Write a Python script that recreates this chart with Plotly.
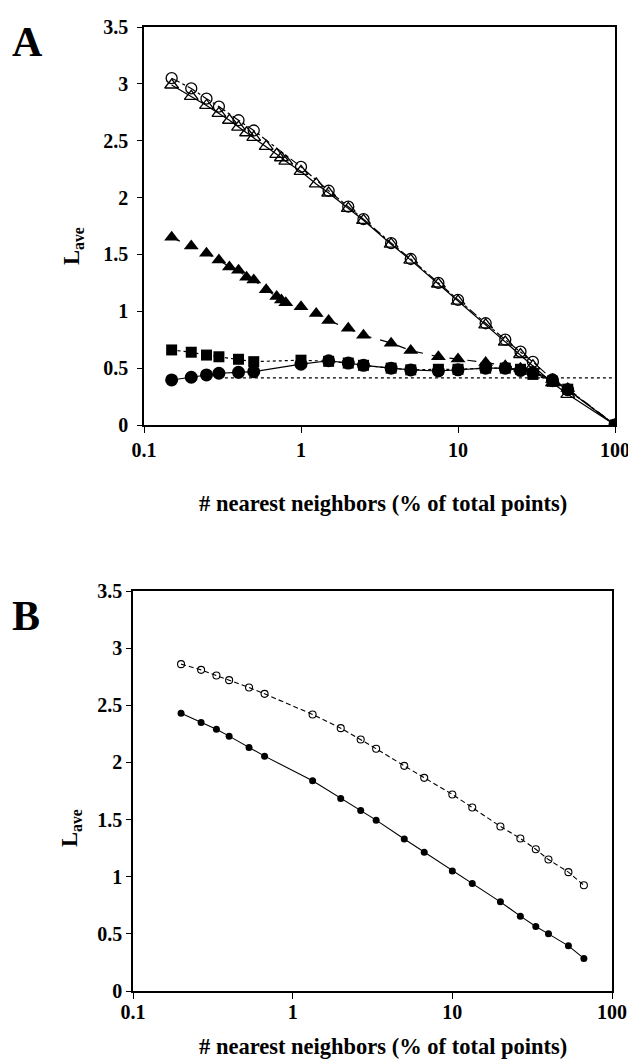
import plotly.graph_objects as go

# ---------------- Panel A data ----------------
xA_full = [0.15, 0.2, 0.25, 0.3, 0.35, 0.4, 0.45, 0.5, 0.6, 0.7, 0.75, 0.8, 1, 1.25, 1.5,
           2, 2.5, 3.75, 5, 7.5, 10, 15, 20, 25, 30, 40, 50, 100]
xA_sub = [0.15, 0.2, 0.25, 0.3, 0.4, 0.5, 1, 1.5, 2, 2.5, 3.75, 5, 7.5, 10, 15, 20, 25,
          30, 40, 50, 100]

a_open_circle = [3.05, 2.96, 2.87, 2.80, 2.68, 2.59, 2.27, 2.06, 1.92, 1.81, 1.60, 1.46,
                 1.25, 1.10, 0.895, 0.75, 0.645, 0.555, 0.40, 0.31, 0.0]
a_open_triangle = [2.99, 2.89, 2.81, 2.74, 2.68, 2.62, 2.57, 2.53, 2.45, 2.38, 2.35, 2.32,
                   2.23, 2.12, 2.04, 1.905, 1.80, 1.59, 1.45, 1.24, 1.09, 0.88, 0.73,
                   0.62, 0.52, 0.37, 0.27, 0.0]
a_filled_triangle = [1.65, 1.575, 1.51, 1.45, 1.39, 1.36, 1.30, 1.275, 1.19, 1.13, 1.10,
                     1.075, 1.04, 0.98, 0.92, 0.85, 0.79, 0.72, 0.655, 0.60, 0.58, 0.55,
                     0.52, 0.50, 0.47, 0.40, 0.32, 0.0]
a_filled_square = [0.66, 0.64, 0.615, 0.60, 0.578, 0.557, 0.57, 0.56, 0.545, 0.525, 0.50,
                   0.485, 0.49, 0.49, 0.50, 0.50, 0.49, 0.445, 0.385, 0.315, 0.0]
a_filled_circle = [0.396, 0.42, 0.44, 0.455, 0.463, 0.469, 0.535, 0.565, 0.545, 0.525,
                   0.50, 0.484, 0.475, 0.485, 0.50, 0.50, 0.48, 0.46, 0.39, 0.31, 0.0]
a_ref_x = [0.3, 100]
a_ref_y = [0.415, 0.415]

# ---------------- Panel B data ----------------
xB = [0.2, 0.267, 0.333, 0.4, 0.533, 0.667, 1.333, 2, 2.667, 3.333, 5, 6.667, 10, 13.33,
      20, 26.67, 33.33, 40, 53.33, 66.67]
b_open = [2.86, 2.81, 2.76, 2.72, 2.655, 2.60, 2.42, 2.30, 2.20, 2.12, 1.97, 1.865, 1.72,
          1.605, 1.44, 1.335, 1.24, 1.15, 1.04, 0.925]
b_filled = [2.43, 2.35, 2.29, 2.23, 2.13, 2.055, 1.84, 1.685, 1.58, 1.495, 1.33, 1.215,
            1.05, 0.94, 0.78, 0.655, 0.565, 0.50, 0.395, 0.285]

x_tickvals = [0.1, 1, 10, 100]
x_ticktext = ["0.1", "1", "10", "100"]
y_tickvals = [0, 0.5, 1, 1.5, 2, 2.5, 3, 3.5]
y_ticktext = ["0", "0.5", "1", "1.5", "2", "2.5", "3", "3.5"]

# The page body has an 8px default margin, so the figure is drawn 8px smaller
# and all target pixel positions are shifted by that offset.
OFF = 8
W, H = 636 - OFF, 1064 - OFF
FONT = "'Liberation Serif', 'Times New Roman', Times, serif"
BLK = "black"

fig = go.Figure()

def px_x(p):
    return (p - OFF) / W

def px_y(p):
    return 1 - (p - OFF) / H

# Panel A traces
fig.add_trace(go.Scatter(x=a_ref_x, y=a_ref_y, mode="lines", xaxis="x", yaxis="y",
                         line=dict(color=BLK, width=1.2, dash="dot"), showlegend=False))
fig.add_trace(go.Scatter(x=xA_sub, y=a_filled_circle, mode="lines+markers", xaxis="x", yaxis="y",
                         line=dict(color=BLK, width=1.2),
                         marker=dict(symbol="circle", size=13, color=BLK), showlegend=False))
fig.add_trace(go.Scatter(x=xA_sub, y=a_filled_square, mode="lines+markers", xaxis="x", yaxis="y",
                         line=dict(color=BLK, width=1.2, dash="dot"),
                         marker=dict(symbol="square", size=11, color=BLK), showlegend=False))
fig.add_trace(go.Scatter(x=xA_full, y=a_filled_triangle, mode="lines+markers", xaxis="x", yaxis="y",
                         line=dict(color=BLK, width=1.2, dash="dash"),
                         marker=dict(symbol="triangle-up", size=13, color=BLK), showlegend=False))
fig.add_trace(go.Scatter(x=xA_full, y=a_open_triangle, mode="lines+markers", xaxis="x", yaxis="y",
                         line=dict(color=BLK, width=1.2),
                         marker=dict(symbol="triangle-up-open", size=12, color=BLK,
                                     line=dict(width=1.3, color=BLK)), showlegend=False))
fig.add_trace(go.Scatter(x=xA_sub, y=a_open_circle, mode="lines+markers", xaxis="x", yaxis="y",
                         line=dict(color=BLK, width=1.2, dash="dashdot"),
                         marker=dict(symbol="circle-open", size=11, color=BLK,
                                     line=dict(width=1.3, color=BLK)), showlegend=False))

# Panel B traces
fig.add_trace(go.Scatter(x=xB, y=b_open, mode="lines+markers", xaxis="x2", yaxis="y2",
                         line=dict(color=BLK, width=1.1, dash="5px,3px"),
                         marker=dict(symbol="circle-open", size=7, color=BLK,
                                     line=dict(width=1.1, color=BLK)), showlegend=False))
fig.add_trace(go.Scatter(x=xB, y=b_filled, mode="lines+markers", xaxis="x2", yaxis="y2",
                         line=dict(color=BLK, width=1.1),
                         marker=dict(symbol="circle", size=7, color=BLK), showlegend=False))

tickfont = dict(family=FONT, size=20, color=BLK, weight="bold")

def xaxis(domain, anchor, standoff):
    return dict(type="log", domain=domain, anchor=anchor, range=[-1, 2],
                tickvals=x_tickvals, ticktext=x_ticktext, tickfont=tickfont,
                ticks="outside", ticklen=6, tickwidth=1.2, tickcolor=BLK,
                showline=True, linecolor=BLK, linewidth=1.5, mirror=True,
                showgrid=False, zeroline=False, ticklabelstandoff=standoff,
                automargin=False)

def yaxis(domain, anchor, standoff):
    return dict(domain=domain, anchor=anchor, range=[0, 3.5],
                tickvals=y_tickvals, ticktext=y_ticktext, tickfont=tickfont,
                ticks="outside", ticklen=5, tickwidth=1.2, tickcolor=BLK,
                showline=True, linecolor=BLK, linewidth=1.5, mirror=True,
                showgrid=False, zeroline=False, ticklabelstandoff=standoff,
                automargin=False)

fig.update_layout(
    width=W, height=H,
    margin=dict(l=0, r=0, t=0, b=0, autoexpand=False),
    paper_bgcolor="white", plot_bgcolor="white",
    font=dict(family=FONT, color=BLK),
    xaxis=xaxis([px_x(144), px_x(615)], "y", 0),
    yaxis=yaxis([px_y(425), px_y(27)], "x", 5),
    xaxis2=xaxis([px_x(133), px_x(612)], "y2", -4),
    yaxis2=yaxis([px_y(991), px_y(591)], "x2", 0),
)

titlefont = dict(family=FONT, size=22.5, color=BLK, weight="bold")
ann = [
    dict(text="A", x=px_x(27), y=px_y(42), font=dict(family=FONT, size=42, color=BLK, weight="bold")),
    dict(text="B", x=px_x(26), y=px_y(616), font=dict(family=FONT, size=42, color=BLK, weight="bold")),
    dict(text="# nearest neighbors (% of total points)", x=px_x(383), y=px_y(503), font=titlefont),
    dict(text="# nearest neighbors (% of total points)", x=px_x(383), y=px_y(1046), font=titlefont),
    dict(text="L<sub>ave</sub>", x=px_x(73), y=px_y(246), textangle=-90, font=titlefont),
    dict(text="L<sub>ave</sub>", x=px_x(71), y=px_y(828), textangle=-90, font=titlefont),
]
for a in ann:
    a.update(xref="paper", yref="paper", showarrow=False, xanchor="center", yanchor="middle")
fig.update_layout(annotations=ann)

fig.write_html("out.html")
